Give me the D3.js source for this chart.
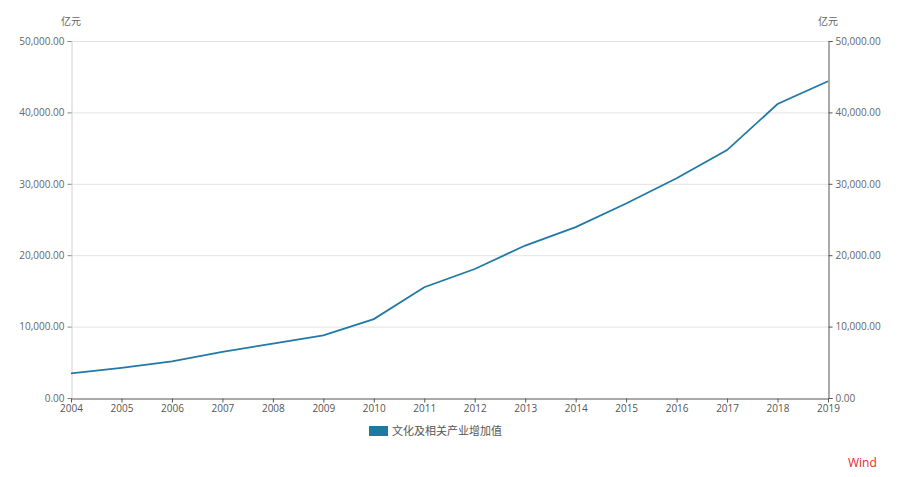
<!DOCTYPE html>
<html><head><meta charset="utf-8">
<script src="https://cdn.jsdelivr.net/npm/d3@7"></script>
<style>body{margin:0;background:#fff;font-family:"Open Sans","Noto Sans CJK SC",sans-serif;}</style>
</head><body><svg id="c" width="900" height="477"></svg>
<script>
const years = [2004,2005,2006,2007,2008,2009,2010,2011,2012,2013,2014,2015,2016,2017,2018,2019];
const values = [3440,4216,5123,6455,7630,8786,11052,15516,18071,21351,23940,27235,30785,34722,41171,44363];
const yTicks = [0,10000,20000,30000,40000,50000];
const seriesName = "文化及相关产业增加值";
const unit = "亿元";

const svg = d3.select("#c");
const L=71, R=828, T=41, B=398;
const x = d3.scaleLinear().domain([2004,2019]).range([L,R]);
const y = d3.scaleLinear().domain([0,50000]).range([B,T]);
const fmt = d3.format(",.2f");
const font = '"Open Sans","Noto Sans CJK SC",sans-serif';

// grid
svg.append("g").selectAll("line").data(yTicks.filter(d=>d>0)).join("line")
  .attr("x1",L).attr("x2",R).attr("y1",d=>y(d)+0.5).attr("y2",d=>y(d)+0.5)
  .attr("stroke","#e3e3e3");

// left axis
const la = svg.append("g").attr("transform",`translate(${L+0.5},0)`)
  .call(d3.axisLeft(y).tickValues(yTicks).tickFormat(fmt).tickSize(4).tickPadding(3));
la.select(".domain").attr("stroke","#d0d0d0");
la.selectAll(".tick line").attr("stroke","#888");
la.selectAll("text").attr("fill","#666").style("font-size","10px").style("font-family",font);

// right axis
const ra = svg.append("g").attr("transform",`translate(${R+0.5},0)`)
  .call(d3.axisRight(y).tickValues(yTicks).tickFormat(fmt).tickSize(4).tickPadding(3));
ra.select(".domain").attr("stroke","#555");
ra.selectAll(".tick line").attr("stroke","#555");
ra.selectAll("text").attr("fill","#666").style("font-size","10px").style("font-family",font);

// bottom axis
const ba = svg.append("g").attr("transform",`translate(0,${B+0.5})`)
  .call(d3.axisBottom(x).tickValues(years).tickFormat(d3.format("d")).tickSize(4).tickSizeOuter(0).tickPadding(2));
ba.select(".domain").attr("stroke","#555");
ba.selectAll(".tick line").attr("stroke","#555");
ba.selectAll("text").attr("fill","#555").style("font-size","10px").style("font-family",font);

// units
svg.append("text").attr("x",L).attr("y",25).attr("text-anchor","middle")
  .attr("fill","#666").style("font-size","10px").style("font-family",font).text(unit);
svg.append("text").attr("x",R).attr("y",25).attr("text-anchor","middle")
  .attr("fill","#666").style("font-size","10px").style("font-family",font).text(unit);

// line
svg.append("path").datum(years.map((yr,i)=>[yr,values[i]]))
  .attr("fill","none").attr("stroke","#2279a6").attr("stroke-width",1.8)
  .attr("d",d3.line().x(d=>x(d[0])).y(d=>y(d[1])));

// legend
svg.append("rect").attr("x",369).attr("y",426).attr("width",19).attr("height",10).attr("fill","#1f77a4");
svg.append("text").attr("x",392).attr("y",435).attr("fill","#555")
  .style("font-size","11px").style("font-family",font).text(seriesName);

// watermark
svg.append("text").attr("x",848).attr("y",467).attr("fill","#e8262c")
  .style("font-size","12px").style("font-family",font).text("Wind");
</script></body></html>
